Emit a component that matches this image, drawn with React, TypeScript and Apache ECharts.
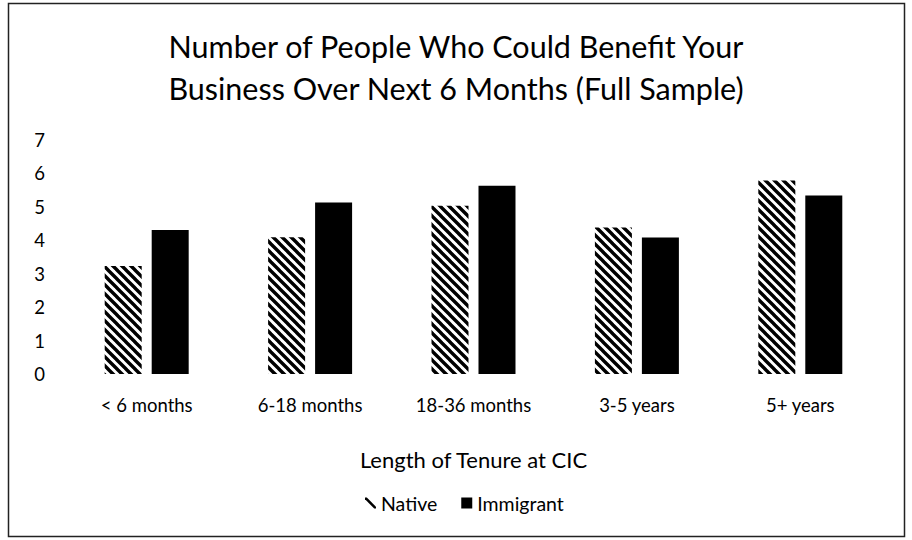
import React, { useEffect, useRef } from "react";
import * as echarts from "echarts";

const categories = ["< 6 months", "6-18 months", "18-36 months", "3-5 years", "5+ years"];
const nativeValues = [3.23, 4.09, 5.03, 4.38, 5.79];
const immigrantValues = [4.31, 5.13, 5.63, 4.08, 5.34];
const seriesNames = ["Native", "Immigrant"];
const titleText = "Number of People Who Could Benefit Your\nBusiness Over Next 6 Months (Full Sample)";
const xAxisTitle = "Length of Tenure at CIC";

const FONT = "Lato, 'Open Sans', sans-serif";

function makeHatch(): HTMLCanvasElement {
  const n = 9;
  const c = document.createElement("canvas");
  c.width = n;
  c.height = n;
  const ctx = c.getContext("2d")!;
  ctx.fillStyle = "#fff";
  ctx.fillRect(0, 0, n, n);
  ctx.strokeStyle = "#000";
  ctx.lineWidth = 3.4;
  ctx.beginPath();
  for (const off of [-n, 0, n]) {
    ctx.moveTo(off - 1, -1);
    ctx.lineTo(off + n + 1, n + 1);
  }
  ctx.stroke();
  return c;
}

export default function App() {
  const ref = useRef<HTMLDivElement>(null);
  useEffect(() => {
    const chart = echarts.init(ref.current!, null, { renderer: "svg" });
    const hatch = makeHatch();
    chart.setOption({
      animation: false,
      backgroundColor: "#fff",
      title: {
        text: titleText,
        left: "center",
        top: 20,
        textStyle: { fontFamily: FONT, fontSize: 30.5, fontWeight: "normal", color: "#000", lineHeight: 42 },
      },
      legend: {
        data: [
          { name: "Native", icon: "path://M0,0 L2,0 L12,10 L12,12 L10,12 L0,2 Z", itemStyle: { color: "#000" } },
          { name: "Immigrant", icon: "rect" },
        ],
        bottom: 22,
        left: 360,
        itemWidth: 11,
        itemHeight: 11,
        itemGap: 24,
        textStyle: { fontFamily: FONT, fontSize: 19.5, color: "#000" },
      },
      grid: { left: 65, right: 30, top: 140, bottom: 166 },
      xAxis: {
        type: "category",
        data: categories,
        axisLine: { show: false },
        axisTick: { show: false },
        axisLabel: { fontFamily: FONT, fontSize: 18.5, color: "#000", margin: 21 },
        name: xAxisTitle,
        nameLocation: "middle",
        nameGap: 74,
        nameTextStyle: { fontFamily: FONT, fontSize: 22, color: "#000" },
      },
      yAxis: {
        type: "value",
        min: 0,
        max: 7,
        interval: 1,
        splitLine: { show: false },
        axisLine: { show: false },
        axisTick: { show: false },
        axisLabel: { fontFamily: FONT, fontSize: 18.5, color: "#000", margin: 20 },
      },
      series: [
        {
          name: seriesNames[0],
          type: "bar",
          data: nativeValues,
          barWidth: 37,
          barGap: "27%",
          itemStyle: { color: { image: hatch, repeat: "repeat" } },
        },
        {
          name: seriesNames[1],
          type: "bar",
          data: immigrantValues,
          barWidth: 37,
          barGap: "27%",
          itemStyle: { color: "#000" },
        },
      ],
      graphic: [
        {
          type: "rect",
          shape: { x: 8.5, y: 3.5, width: 896, height: 533 },
          style: { fill: "none", stroke: "#222", lineWidth: 1.5 },
          silent: true,
        },
      ],
    });
    return () => chart.dispose();
  }, []);
  return <div ref={ref} style={{ position: "fixed", left: 0, top: 0, width: 912, height: 540 }} />;
}
